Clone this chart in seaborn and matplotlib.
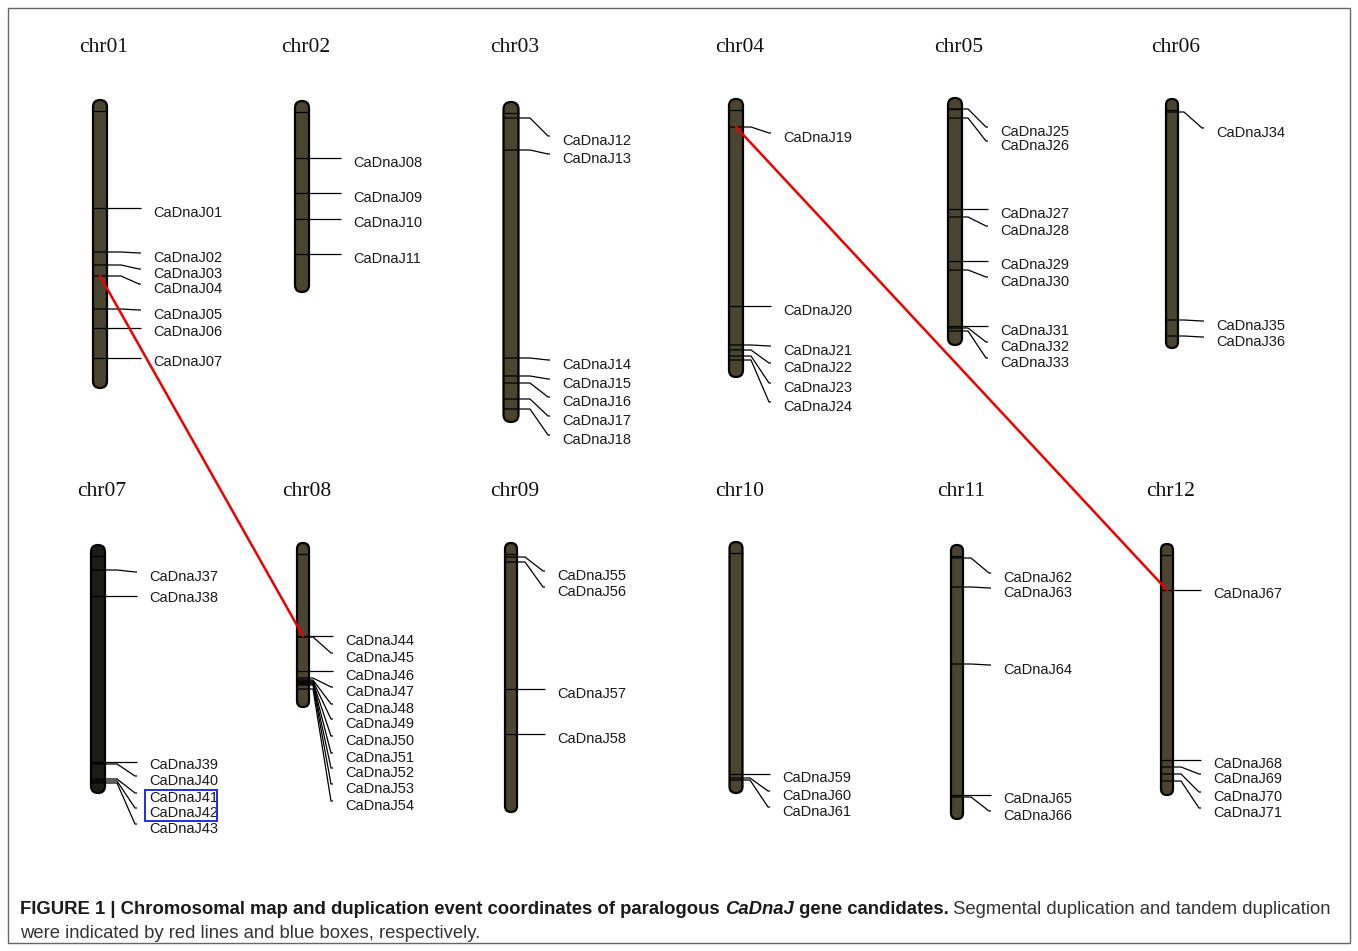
import numpy as np
import pandas as pd
import matplotlib
matplotlib.use("Agg")
import matplotlib.pyplot as plt
import seaborn as sns
from matplotlib.patches import FancyBboxPatch, Rectangle
from matplotlib.collections import LineCollection

################ DATA ################
# chromosome extents and gene positions (map units, measured from row start)
chrom_names = ["chr01", "chr02", "chr03", "chr04", "chr05", "chr06",
               "chr07", "chr08", "chr09", "chr10", "chr11", "chr12"]
chrom_start = [0, 1, 2, -1, -2, -1, 1, -1, -1, -2, 1, 0]
chrom_end = [288, 192, 322, 277, 245, 248, 249, 163, 268, 249, 275, 251]
genes_per_chrom = [7, 4, 7, 6, 9, 3, 7, 11, 4, 3, 5, 5]

gene_pos = [
    [108, 152, 165, 176, 209, 228, 258],
    [58, 93, 119, 154],
    [18, 50, 258, 276, 283, 299, 309],
    [27, 206, 245, 250, 256, 260],
    [9, 18, 109, 117, 161, 170, 226, 228, 231],
    [12, 220, 236],
    [26, 52, 218, 220, 235, 237, 239],
    [92, 93, 127, 134, 136, 137, 138, 139, 140, 141, 145],
    [13, 18, 145, 190],
    [230, 234, 236],
    [14, 43, 120, 251, 253],
    [46, 216, 223, 230, 237],
]
# label positions as drawn in the map (after de-overlapping)
label_pos = [
    [113, 158, 174, 189, 215, 232, 262],
    [63, 98, 123, 159],
    [41, 59, 265, 284, 302, 321, 340],
    [38, 211, 251, 268, 288, 307],
    [32, 46, 114, 131, 165, 182, 231, 247, 263],
    [33, 226, 242],
    [33, 54, 221, 237, 254, 269, 285],
    [97, 114, 132, 148, 165, 180, 197, 214, 229, 245, 262],
    [32, 48, 150, 195],
    [234, 252, 268],
    [34, 49, 126, 255, 272],
    [50, 220, 235, 253, 269],
]

segmental_pairs = [("CaDnaJ04", "CaDnaJ44"), ("CaDnaJ19", "CaDnaJ67")]
tandem_groups = [("CaDnaJ41", "CaDnaJ42")]

################ LAYOUT ################
col_x = [100, 302, 511, 736, 955, 1172, 98, 303, 511, 736, 957, 1167]
row_origin = [100] * 6 + [544] * 6
bar_width = [14, 14, 15, 14, 14, 12, 14, 12, 12, 13, 12, 12]
text_offset = [53, 51, 51, 47, 45, 44, 51, 42, 46, 46, 46, 46]
bar_colors = ["#4b4530"] * 6 + ["#1d1c14"] + ["#4b4530"] * 5

sns.set_theme(style="white")
plt.rcParams['font.family'] = ['Liberation Sans', 'DejaVu Sans']

fig = plt.figure(figsize=(13.58, 9.51), dpi=100)
ax = fig.add_axes([0, 0, 1, 1])

gene_xy = {}
label_xy = {}
leaders = []
k = 1
for i, name in enumerate(chrom_names):
    cx = col_x[i]
    oy = row_origin[i]
    w = bar_width[i]
    top = oy + chrom_start[i]
    length = chrom_end[i] - chrom_start[i]

    bar = FancyBboxPatch((cx - w / 2, top), w, length,
                         boxstyle=f"round,pad=0,rounding_size={w / 2}",
                         facecolor=bar_colors[i], edgecolor="black", lw=1.6, zorder=2)
    ax.add_patch(bar)
    # top marker line
    leaders.append([(cx - w / 2, top + 11), (cx + w / 2, top + 11)])

    ax.text(cx + 4, oy - 52, name, family=["Liberation Serif", "DejaVu Serif"],
            fontsize=15.5, ha="center", va="center", color="#111111")

    tx = cx + text_offset[i]
    for g, lab in zip(gene_pos[i], label_pos[i]):
        gname = f"CaDnaJ{k:02d}"
        k += 1
        gy = oy + g
        ly = oy + lab
        end = max(gy, ly - 5)
        leaders.append([(cx - w / 2, gy), (tx - 32, gy), (tx - 14, end), (tx - 12, end)])
        ax.text(tx, ly, gname, fontsize=10.5, ha="left", va="center", color="#1a1a1a", zorder=5)
        gene_xy[gname] = (cx, gy)
        label_xy[gname] = (tx, ly)

ax.add_collection(LineCollection(leaders, colors="black", linewidths=0.9, zorder=3))

# segmental duplications (red lines)
seg_rows = []
for p, (a, b) in enumerate(segmental_pairs):
    for gname in (a, b):
        seg_rows.append({"pair": p, "x": gene_xy[gname][0], "y": gene_xy[gname][1]})
seg_df = pd.DataFrame(seg_rows)
sns.lineplot(data=seg_df, x="x", y="y", units="pair", estimator=None, sort=False,
             color="#ee0000", lw=1.8, ax=ax, zorder=4, legend=False)
ax.set_xlim(0, 1358)
ax.set_ylim(951, 0)
ax.axis("off")

# tandem duplications (blue boxes)
for grp in tandem_groups:
    xs = [label_xy[g][0] for g in grp]
    ys = [label_xy[g][1] for g in grp]
    ax.add_patch(Rectangle((min(xs) - 4, min(ys) - 8), 72, max(ys) - min(ys) + 16,
                           fill=False, edgecolor="#1f2fe0", lw=1.4, zorder=6))

# outer frame
ax.add_patch(Rectangle((8, 8), 1342, 935, fill=False, edgecolor="#666666", lw=1, zorder=1))

# caption
cap_font = ["Liberation Sans", "DejaVu Sans"]
cap_size = 13.3
t = ax.text(20, 918, "FIGURE 1 | Chromosomal map and duplication event coordinates of paralogous ",
            family=cap_font, fontsize=cap_size, weight="bold", ha="left", va="bottom", color="#1a1a1a")
t = ax.annotate("CaDnaJ", xy=(1, 0), xycoords=t, family=cap_font, fontsize=cap_size,
                weight="bold", style="italic", ha="left", va="bottom", color="#1a1a1a")
t = ax.annotate(" gene candidates.", xy=(1, 0), xycoords=t, family=cap_font, fontsize=cap_size,
                weight="bold", ha="left", va="bottom", color="#1a1a1a")
t = ax.annotate(" Segmental duplication and tandem duplication", xy=(1, 0), xycoords=t,
                family=cap_font, fontsize=cap_size, ha="left", va="bottom", color="#333333")
ax.text(20, 942, "were indicated by red lines and blue boxes, respectively.",
        family=cap_font, fontsize=cap_size, ha="left", va="bottom", color="#333333")

fig.savefig("out.png", dpi=100)
